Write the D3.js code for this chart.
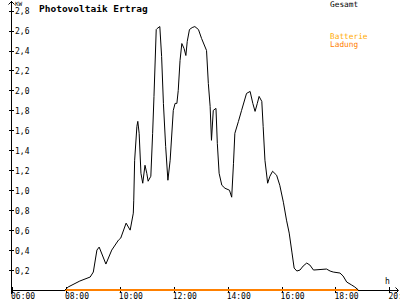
<!DOCTYPE html>
<html lang="de">
<head>
<meta charset="utf-8">
<title>Photovoltaik Ertrag</title>
<script src="https://cdn.jsdelivr.net/npm/d3@7"></script>
<style>
  body { margin: 0; background: #fff; }
  text { font-family: "DejaVu Sans Mono", "Liberation Mono", monospace; }
</style>
</head>
<body>
<div id="chart"></div>
<script>
// time in minutes since midnight, power in kW
var ertragMinutes = [478, 485, 511, 534, 541, 549, 554, 569, 582, 597, 602, 614, 623, 630, 631, 633,
  638, 640, 643, 647, 651, 656, 660, 663, 669, 673, 676, 681, 683, 689, 693, 697, 702, 707, 712,
  719, 723, 727, 730, 734, 738, 743, 747, 750, 755, 761, 767, 775, 782, 793, 797, 801, 804, 808,
  814, 817, 821, 827, 834, 844, 849, 853, 856, 864, 871, 882, 890, 896, 901, 906, 910, 916, 919,
  923, 929, 934, 940, 949, 956, 964, 971, 977, 983, 988, 994, 1001, 1008, 1016, 1023, 1031, 1060,
  1068, 1075, 1090, 1097, 1105, 1116, 1123, 1131];
var ertragKw = [0, 0.03, 0.09, 0.13, 0.18, 0.40, 0.43, 0.26, 0.40, 0.50, 0.52, 0.67, 0.60, 0.77, 0.90, 1.30,
  1.64, 1.69, 1.57, 1.17, 1.07, 1.25, 1.17, 1.09, 1.14, 1.57, 1.94, 2.61, 2.62, 2.64, 2.34, 1.87, 1.44, 1.10, 1.30,
  1.80, 1.87, 1.87, 2.00, 2.30, 2.47, 2.42, 2.35, 2.49, 2.61, 2.63, 2.64, 2.61, 2.52, 2.40, 2.07, 1.84, 1.50, 1.80,
  1.82, 1.47, 1.17, 1.05, 1.02, 1.00, 0.93, 1.27, 1.57, 1.69, 1.80, 1.97, 1.99, 1.87, 1.79, 1.87, 1.94, 1.89, 1.64,
  1.30, 1.07, 1.14, 1.19, 1.15, 1.05, 0.88, 0.70, 0.57, 0.38, 0.22, 0.19, 0.20, 0.24, 0.27, 0.25, 0.20, 0.21,
  0.19, 0.18, 0.17, 0.14, 0.08, 0.05, 0.03, 0];

var ladungMinutes = [478, 1131];
var ladungKw = [0, 0];

var xTickHours = [6, 8, 10, 12, 14, 16, 18, 20];
var yTickValues = [0.2, 0.4, 0.6, 0.8, 1.0, 1.2, 1.4, 1.6, 1.8, 2.0, 2.2, 2.4, 2.6, 2.8];

var width = 400, height = 300;

var svg = d3.select('#chart').append('svg')
  .attr('width', width).attr('height', height);

var x = d3.scaleLinear().domain([6 * 60, 20 * 60]).range([12, 389.4]);
var y = d3.scaleLinear().domain([0, 2.8]).range([290, 10.6]);

var fmt = function(v) { return d3.format('.1f')(v).replace('.', ','); };
var pad = function(h) { return (h < 10 ? '0' : '') + h + ':00'; };

var axes = svg.append('g').attr('shape-rendering', 'crispEdges').attr('stroke', '#000');

// y axis with arrow
axes.append('line').attr('x1', 11.5).attr('x2', 11.5).attr('y1', 1).attr('y2', 294);
svg.append('path').attr('d', 'M8.5,4.5 L11.5,1.5 L14.5,4.5').attr('fill', 'none').attr('stroke', '#000');

axes.selectAll('.ytick').data(yTickValues).enter().append('line')
  .attr('x1', 9).attr('x2', 14)
  .attr('y1', function(d) { return Math.round(y(d)) + 0.5; })
  .attr('y2', function(d) { return Math.round(y(d)) + 0.5; });

svg.selectAll('.ylabel').data(yTickValues).enter().append('text')
  .attr('x', 15).attr('y', function(d) { return y(d) + 3.5; })
  .attr('font-size', 8).text(fmt);

// x axis with arrow
axes.append('line').attr('x1', 11).attr('x2', 398).attr('y1', 290.5).attr('y2', 290.5);
svg.append('path').attr('d', 'M395.5,287.5 L398.5,290.5 L395.5,293.5').attr('fill', 'none').attr('stroke', '#000');

axes.selectAll('.xtick').data(xTickHours).enter().append('line')
  .attr('x1', function(d) { return Math.round(x(d * 60)) + 0.5; })
  .attr('x2', function(d) { return Math.round(x(d * 60)) + 0.5; })
  .attr('y1', 287).attr('y2', 293);

// last label runs off the right edge, as in the original
svg.selectAll('.xlabel').data(xTickHours).enter().append('text')
  .attr('x', function(d) { return x(d * 60) - 1; }).attr('y', 299)
  .attr('font-size', 8).text(pad);

svg.append('text').attr('x', 15).attr('y', 6).attr('font-size', 6).text('KW');
svg.append('text').attr('x', 385).attr('y', 284).attr('font-size', 8).text('h');

// title and legend
svg.append('text').attr('x', 39).attr('y', 12).attr('font-size', 9.5)
  .attr('font-weight', 'bold').text('Photovoltaik Ertrag');
svg.append('text').attr('x', 330).attr('y', 7).attr('font-size', 7.8).text('Gesamt');
svg.append('text').attr('x', 330).attr('y', 38.5).attr('font-size', 7.8).attr('fill', '#ffaa00').text('Batterie');
svg.append('text').attr('x', 330).attr('y', 47).attr('font-size', 7.8).attr('fill', '#ff8000').text('Ladung');

// series
var line = d3.line()
  .x(function(d) { return x(d[0]); })
  .y(function(d) { return y(d[1]); });

svg.append('path')
  .datum(d3.zip(ladungMinutes, ladungKw))
  .attr('d', line).attr('fill', 'none').attr('stroke', '#ff8000').attr('stroke-width', 1.6)
  .attr('shape-rendering', 'crispEdges');

svg.append('path')
  .datum(d3.zip(ertragMinutes, ertragKw))
  .attr('d', line).attr('fill', 'none').attr('stroke', '#000').attr('stroke-width', 1);
</script>
</body>
</html>
